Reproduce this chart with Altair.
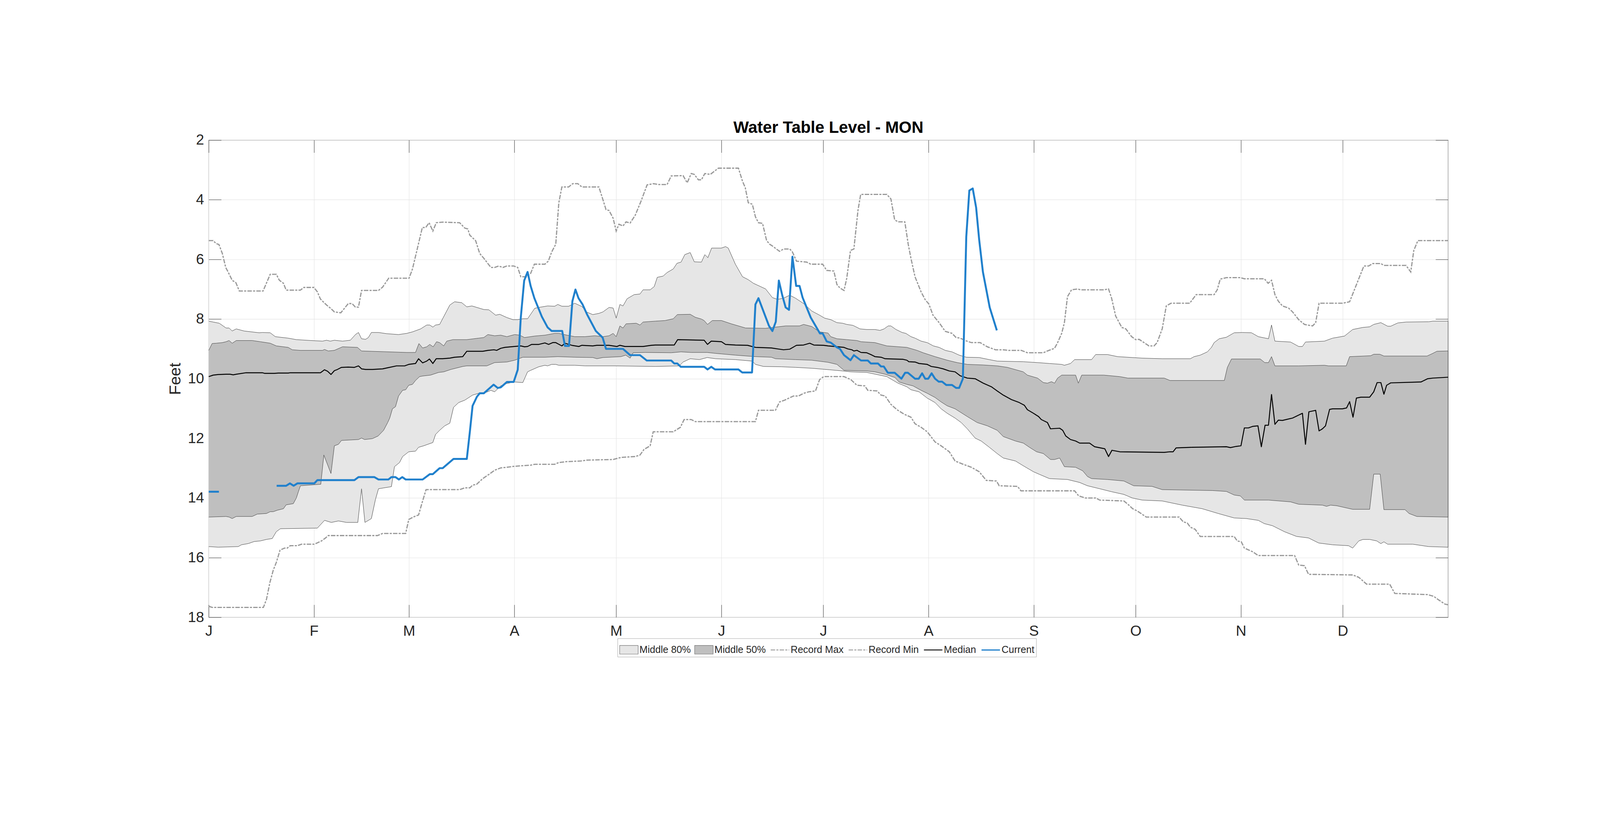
import json
import altair as alt
import pandas as pd

FONT = "Liberation Sans"
TXT = "#262626"

SERIES = ["Middle 80%", "Middle 50%", "Record Max", "Record Min", "Median", "Current"]
MONTH_STARTS = [0, 31, 59, 90, 120, 151, 181, 212, 243, 273, 304, 334]
MONTH_LABELS = ["J", "F", "M", "A", "M", "J", "J", "A", "S", "O", "N", "D"]
Y_TICKS = [2, 4, 6, 8, 10, 12, 14, 16, 18]

# (day of year, feet)
record_max = [(0, 5.37), (1.3, 5.37), (2.2, 5.47), (3, 5.5), (4, 5.8), (5, 6.27), (5.7, 6.42), (6.9, 6.7), (8, 6.78), (9, 7.06),
    (16, 7.06), (18.1, 6.5), (19.9, 6.5), (20.8, 6.7), (22, 6.8), (22.8, 7.03), (27, 7.03), (28, 6.94), (31, 6.94), (32, 7.09),
    (32.9, 7.33), (34.7, 7.53), (35.8, 7.63), (37, 7.76), (38.9, 7.79), (41.1, 7.48), (42.2, 7.48), (43.2, 7.6), (44.1, 7.6), (45, 7.04),
    (50, 7.04), (51.2, 6.93), (53, 6.63), (59, 6.63), (60, 6.32), (61.2, 5.75), (62.9, 4.93), (63.9, 4.93), (64.9, 4.77), (66, 5.05),
    (67, 4.77), (68.9, 4.75), (73.9, 4.77), (75.4, 4.95), (76.3, 4.98), (76.9, 5.19), (78.6, 5.37), (79.8, 5.8), (81, 5.96), (83.1, 6.27),
    (84.2, 6.27), (85.4, 6.22), (86.6, 6.27), (87.8, 6.22), (89.8, 6.22), (91, 6.27), (91.9, 6.58), (93.6, 6.58), (94.8, 6.47), (95.9, 6.16),
    (99, 6.16), (100, 6.06), (101, 5.75), (102.2, 5.49), (103.1, 4.1), (104, 3.57), (106, 3.57), (107.2, 3.46), (108.7, 3.46), (109.9, 3.57),
    (114.9, 3.57), (116.1, 4.0), (117, 4.33), (117.9, 4.36), (119.1, 4.62), (120, 5.05), (120.8, 4.82), (122, 4.88), (122.9, 4.74), (124.1, 4.78),
    (125.6, 4.52), (127.3, 4.05), (129.1, 3.5), (130.9, 3.46), (132.6, 3.49), (135, 3.49), (136.2, 3.2), (139.7, 3.19), (140.9, 3.43), (142.1, 3.12),
    (143, 3.15), (144.2, 3.33), (145.1, 3.33), (146.1, 3.12), (147.7, 3.15), (150.1, 2.94), (156, 2.94), (157.2, 3.38), (158, 3.59), (158.9, 4.1),
    (160.1, 4.15), (161, 4.57), (161.9, 4.77), (163.1, 4.79), (164.3, 5.37), (165.2, 5.49), (166, 5.55), (168.1, 5.73), (169.3, 5.65), (171.1, 5.65),
    (171.9, 5.75), (173.1, 6.06), (176.1, 6.09), (177.3, 6.16), (180.8, 6.16), (182, 6.37), (184.1, 6.39), (185, 6.84), (185.9, 6.96), (187.1, 7.04),
    (187.9, 6.63), (189, 5.7), (190, 5.65), (191.2, 4.36), (192, 3.82), (199.7, 3.82), (200.9, 3.97), (202, 4.67), (203, 4.74), (205, 4.74),
    (206, 5.49), (206.8, 5.96), (208, 6.58), (209.8, 7.09), (211, 7.35), (212.1, 7.5), (213.3, 7.87), (215.1, 8.12), (216.9, 8.41), (218.9, 8.48),
    (220.1, 8.62), (221.3, 8.64), (222.8, 8.72), (224.6, 8.79), (227.2, 8.79), (229.3, 8.93), (231.7, 9.03), (234, 9.03), (235.5, 9.05), (239.3, 9.05),
    (241.1, 9.13), (245.8, 9.13), (247, 9.07), (249.1, 8.98), (250, 8.79), (251.2, 8.48), (252, 8.12), (252.9, 7.25), (254.1, 7.02), (255.9, 6.99),
    (256.8, 7.02), (263.6, 7.02), (265, 6.99), (265.9, 7.3), (267.1, 7.9), (268.9, 8.28), (270.1, 8.33), (271.8, 8.59), (273, 8.69), (274, 8.68),
    (276.9, 8.9), (278.4, 8.9), (279.3, 8.79), (280.8, 8.33), (282, 7.56), (283.4, 7.47), (288.9, 7.47), (290.8, 7.18), (296.1, 7.18), (297, 7.02),
    (297.9, 6.66), (299.7, 6.61), (303.8, 6.61), (305, 6.65), (310.9, 6.65), (312, 6.8), (313, 6.7), (313.3, 6.84), (314, 7.18), (315, 7.4),
    (316.2, 7.56), (318, 7.63), (319.2, 7.76), (321, 8.02), (322.7, 8.18), (325.1, 8.23), (326, 8.12), (327, 7.47), (333.9, 7.47), (336, 7.42),
    (337.5, 6.99), (340.2, 6.22), (341.6, 6.22), (342.8, 6.14), (345.2, 6.14), (346.1, 6.2), (352.6, 6.2), (354, 6.42), (354.9, 5.7), (356.1, 5.37),
    (365, 5.37)]

record_min = [(0, 17.63), (1, 17.67), (16.1, 17.67), (17, 17.4), (18, 16.84), (19, 16.42), (19.9, 16.16), (21, 15.75), (22.3, 15.68), (23.1, 15.68),
    (24, 15.6), (26.1, 15.6), (27.3, 15.55), (31.1, 15.55), (33.2, 15.44), (34.4, 15.34), (35.2, 15.26), (49.7, 15.26), (51.2, 15.19), (58, 15.19),
    (58.9, 14.72), (60.6, 14.62), (61.8, 14.57), (62.7, 14.21), (64, 13.72), (73.9, 13.72), (75.4, 13.66), (76.9, 13.66), (77.7, 13.57), (78.9, 13.54),
    (80.7, 13.35), (82.5, 13.21), (84.2, 13.07), (86, 12.99), (87.8, 12.97), (89.8, 12.94), (91.9, 12.92), (94.8, 12.9), (96, 12.87), (101.9, 12.87),
    (103.1, 12.81), (105.5, 12.78), (109.6, 12.76), (111.4, 12.73), (119.1, 12.71), (121.4, 12.64), (125.6, 12.61), (127, 12.56), (128.2, 12.37), (130, 12.25),
    (130.9, 11.78), (136.8, 11.78), (138.9, 11.63), (140, 11.37), (142.1, 11.37), (143.3, 11.44), (161, 11.44), (161.9, 11.06), (166.9, 11.06), (168.1, 10.78),
    (169.6, 10.72), (172.2, 10.58), (173.7, 10.58), (175.2, 10.49), (176.7, 10.44), (178.7, 10.41), (179.9, 10.03), (181.1, 9.93), (187.1, 9.93), (189.1, 10.03),
    (190.9, 10.22), (193.2, 10.24), (194.1, 10.39), (196.8, 10.41), (198, 10.55), (199.2, 10.58), (200.9, 10.86), (202.7, 11.04), (204.8, 11.19), (206.8, 11.29),
    (208, 11.51), (209.8, 11.63), (211.6, 11.78), (213.9, 12.12), (215.7, 12.25), (218.1, 12.45), (219.8, 12.76), (222.2, 12.87), (224.6, 12.97), (226.9, 13.12),
    (229, 13.41), (232, 13.43), (232.8, 13.59), (238.2, 13.61), (239.2, 13.76), (255, 13.76), (256.2, 13.93), (258.2, 14.0), (261.2, 14.0), (262.4, 14.07),
    (269.5, 14.1), (270.7, 14.21), (272.1, 14.36), (273.4, 14.43), (276.1, 14.64), (285.8, 14.64), (287, 14.8), (288.2, 14.84), (289.1, 14.98), (290.5, 15.05),
    (292, 15.29), (302, 15.29), (302.9, 15.44), (304.1, 15.47), (305, 15.68), (307.4, 15.8), (309.1, 15.93), (319.8, 15.93), (321, 16.25), (322.7, 16.27),
    (323.9, 16.56), (336.9, 16.58), (338.7, 16.66), (341, 16.89), (347.8, 16.89), (349.3, 17.2), (359, 17.24), (360.8, 17.3), (362, 17.4), (364.1, 17.56),
    (365, 17.58)]

upper_80 = [(0, 8.07), (1.3, 8.1), (3.1, 8.14), (5.1, 8.3), (6, 8.3), (6.9, 8.4), (8.1, 8.33), (10.4, 8.4), (14.9, 8.46), (15.8, 8.45),
    (18.1, 8.46), (19.6, 8.59), (23.4, 8.64), (25.8, 8.69), (30.2, 8.72), (33.5, 8.74), (34.7, 8.71), (35.8, 8.74), (37, 8.71), (39.4, 8.74),
    (41.7, 8.71), (43.2, 8.52), (44.1, 8.45), (45, 8.66), (46.2, 8.68), (47, 8.62), (47.9, 8.45), (50, 8.45), (52.4, 8.49), (55.9, 8.52),
    (58.3, 8.48), (60, 8.43), (62.4, 8.33), (64.2, 8.2), (65.1, 8.2), (66, 8.27), (66.8, 8.2), (68, 8.18), (71, 7.53), (72.4, 7.42),
    (74.5, 7.45), (76, 7.59), (77.5, 7.56), (81, 7.68), (82.5, 7.69), (84.5, 7.87), (85.7, 7.84), (87.8, 7.95), (89.6, 8.02), (91, 8.02),
    (92.5, 7.99), (93.9, 7.99), (96, 7.64), (97.2, 7.61), (99.8, 7.56), (101.9, 7.57), (102.8, 7.51), (104, 7.57), (106, 7.57), (107.8, 7.47),
    (109.9, 7.58), (111.4, 7.77), (113.1, 7.85), (114.9, 7.81), (116.1, 7.76), (117.9, 7.61), (119.1, 7.63), (120, 7.97), (121.1, 7.51), (122, 7.56),
    (123.2, 7.32), (125.3, 7.18), (127, 7.16), (127.9, 7.02), (130, 7.02), (131.2, 6.91), (132.1, 6.6), (133.8, 6.56), (135, 6.44), (136.8, 6.32),
    (137.9, 6.13), (139.1, 6.09), (140.2, 5.84), (141.8, 5.77), (143, 6.08), (145.1, 6.09), (146.1, 5.84), (147, 5.94), (148.1, 5.62), (151, 5.62),
    (152.2, 5.57), (153, 5.62), (155.1, 6.16), (157.2, 6.58), (158.9, 6.68), (160.4, 6.8), (164, 6.99), (166, 7.28), (167.5, 7.34), (169.3, 7.3),
    (171.1, 7.2), (172.8, 7.3), (175.2, 7.48), (177.6, 7.73), (179.9, 7.87), (181.4, 7.97), (183.2, 8.02), (185, 8.12), (186.7, 8.14), (187.9, 8.18),
    (189.7, 8.21), (191.8, 8.33), (193.8, 8.35), (196.2, 8.35), (197.7, 8.38), (198.9, 8.33), (200.1, 8.23), (200.9, 8.23), (202.4, 8.35), (204.2, 8.45),
    (205.3, 8.48), (206.8, 8.59), (208, 8.64), (209.8, 8.74), (211.6, 8.79), (213.4, 8.9), (215.1, 8.95), (216.9, 9.05), (218.9, 9.1), (221, 9.21),
    (223.1, 9.28), (226.9, 9.29), (229.9, 9.36), (232.2, 9.41), (239.9, 9.43), (244.1, 9.46), (247.6, 9.49), (251.2, 9.52), (252, 9.55), (253.8, 9.49),
    (255, 9.36), (260, 9.36), (261.2, 9.19), (264.7, 9.19), (267.7, 9.26), (274.9, 9.31), (280.8, 9.33), (289.1, 9.33), (290.2, 9.26), (292, 9.21),
    (294.1, 9.1), (295.3, 8.95), (296.1, 8.79), (297.6, 8.66), (299.7, 8.61), (302, 8.46), (304.4, 8.45), (307.1, 8.46), (309.1, 8.59), (312.1, 8.66),
    (313, 8.2), (314, 8.74), (318.6, 8.77), (321, 8.92), (322.1, 8.92), (323, 8.77), (328.6, 8.74), (331, 8.64), (334.5, 8.57), (336.9, 8.35),
    (339.9, 8.28), (341.9, 8.26), (343.1, 8.18), (345.2, 8.12), (347.2, 8.24), (348.1, 8.24), (350.2, 8.13), (352.6, 8.1), (359.3, 8.09), (360.5, 8.07),
    (365, 8.07)]

lower_80 = [(0, 15.63), (2.8, 15.65), (8.7, 15.63), (9.6, 15.57), (11.6, 15.53), (13.4, 15.46), (15.2, 15.44), (17, 15.39), (18.7, 15.36), (19.9, 15.13),
    (21.1, 15.03), (32, 15.01), (34.1, 14.75), (36.1, 14.82), (38.2, 14.77), (40.6, 14.82), (43.9, 14.82), (45, 13.69), (46, 14.82), (47.9, 14.69),
    (49.1, 14.05), (50, 13.69), (53.8, 13.62), (54.7, 12.95), (56.2, 12.81), (57.1, 12.61), (58.9, 12.45), (60.9, 12.43), (61.8, 12.3), (63.3, 12.25),
    (66, 12.14), (66.8, 11.87), (68, 11.73), (69.5, 11.58), (71, 11.49), (72.1, 10.96), (73.6, 10.8), (75.4, 10.72), (77.7, 10.55), (79.5, 10.49),
    (81, 10.49), (83.1, 10.39), (84.2, 10.44), (86, 10.24), (87.8, 10.16), (90.1, 10.11), (92.5, 10.13), (93.9, 9.77), (94.8, 9.72), (97.2, 9.6),
    (99, 9.55), (99.8, 9.57), (101, 9.52), (102.2, 9.52), (103.1, 9.55), (107.8, 9.55), (110.8, 9.57), (119.6, 9.57), (131.5, 9.59), (138.6, 9.57),
    (139.7, 9.44), (141.8, 9.33), (144.5, 9.36), (146.8, 9.29), (149.2, 9.33), (155.1, 9.36), (160.1, 9.41), (161, 9.52), (163.4, 9.59), (168.7, 9.6),
    (172.8, 9.62), (177.6, 9.65), (182.8, 9.7), (186.7, 9.74), (189.1, 9.77), (193.8, 9.79), (199.7, 9.93), (203, 10.15), (205.6, 10.27), (206.8, 10.37),
    (209.2, 10.44), (211.6, 10.65), (213.9, 10.8), (215.7, 11.01), (217.5, 11.16), (219.8, 11.32), (221.6, 11.47), (223.4, 11.68), (225.7, 11.99), (227.5, 12.09),
    (229.9, 12.3), (232.2, 12.51), (234, 12.66), (237.6, 12.76), (239.9, 12.92), (242.9, 13.12), (244.7, 13.21), (247.6, 13.35), (252.9, 13.38), (256.5, 13.48),
    (258.8, 13.59), (262.4, 13.69), (265.9, 13.79), (269.5, 13.88), (272, 14.0), (274.9, 14.07), (280.8, 14.1), (286.7, 14.24), (292.6, 14.36), (297.3, 14.52),
    (302, 14.67), (305.6, 14.69), (309.1, 14.75), (310.9, 14.86), (313.3, 14.93), (316.8, 15.13), (320.4, 15.29), (323.9, 15.34), (326.9, 15.51), (331, 15.57),
    (335.7, 15.6), (336.9, 15.68), (338.7, 15.44), (339.9, 15.39), (341.9, 15.39), (344, 15.44), (345.2, 15.53), (346.1, 15.47), (347.2, 15.55), (354.6, 15.55),
    (359.3, 15.63), (365, 15.65)]

upper_50 = [(0, 9.05), (1, 8.82), (2.2, 8.81), (4, 8.79), (5.1, 8.76), (6, 8.72), (6.9, 8.81), (8.1, 8.72), (12.8, 8.72), (15.2, 8.76),
    (18.1, 8.81), (19.9, 8.9), (23.4, 8.95), (24.6, 9.03), (27, 9.05), (33.5, 9.05), (34.1, 9.02), (35.2, 9.07), (37, 9.05), (39.4, 8.93),
    (43.8, 8.95), (45, 9.07), (58.3, 9.12), (60.9, 9.12), (61.9, 8.82), (63, 8.97), (64.2, 8.93), (65.1, 8.85), (66.1, 8.93), (67.1, 8.76),
    (68, 8.79), (69.2, 8.9), (70.1, 8.74), (71.9, 8.69), (76, 8.69), (79.5, 8.64), (81, 8.62), (82.2, 8.52), (84.2, 8.56), (86, 8.54),
    (87.8, 8.59), (90.1, 8.52), (91.6, 8.54), (93, 8.62), (96, 8.57), (99, 8.54), (101.9, 8.48), (103.1, 8.48), (105.5, 8.54), (107.8, 8.59),
    (110.8, 8.59), (113.7, 8.56), (116.1, 8.59), (117.9, 8.56), (119.1, 8.48), (120, 8.59), (121.1, 8.23), (122, 8.3), (122.9, 8.16), (125.9, 8.14),
    (127, 8.2), (127.9, 8.1), (131.5, 8.07), (134.4, 8.05), (136.8, 7.99), (138, 7.85), (141.8, 7.84), (143.3, 7.94), (145.1, 8.0), (145.9, 8.05),
    (146.9, 8.18), (148.3, 8.05), (151, 8.05), (153.9, 8.16), (158.1, 8.3), (164, 8.31), (169.9, 8.23), (174, 8.23), (175.2, 8.18), (177.6, 8.25),
    (179.9, 8.43), (182.4, 8.47), (183.2, 8.59), (185, 8.66), (187.9, 8.69), (190.9, 8.72), (192.1, 8.76), (196.2, 8.79), (199.7, 8.9), (205.6, 8.95),
    (208.6, 9.05), (210.4, 9.13), (213.9, 9.26), (217.5, 9.38), (220.4, 9.46), (223.4, 9.52), (228.1, 9.54), (232.2, 9.57), (235.2, 9.62), (239.9, 9.77),
    (241.1, 9.88), (244.1, 9.98), (245.8, 10.13), (247, 10.15), (248.2, 10.1), (249.1, 10.15), (250, 9.98), (251.2, 9.88), (255.3, 9.88), (256.1, 10.15),
    (257.1, 9.88), (263.6, 9.88), (268.3, 9.93), (270.7, 9.98), (281.4, 9.98), (283.1, 10.06), (299.1, 10.06), (300, 9.62), (301.2, 9.34), (309.7, 9.34),
    (311, 9.46), (312.1, 9.46), (313, 9.26), (314, 9.57), (321, 9.57), (328.6, 9.55), (329.8, 9.57), (335, 9.57), (336, 9.26), (342.2, 9.23),
    (343.1, 9.18), (344.9, 9.18), (346.1, 9.24), (358.8, 9.24), (360.5, 9.15), (361.7, 9.08), (365, 9.07)]

lower_50 = [(0, 14.64), (5.1, 14.62), (6, 14.64), (6.9, 14.69), (8.1, 14.62), (12.8, 14.62), (14.3, 14.54), (17, 14.52), (18.1, 14.46), (19, 14.46),
    (20.2, 14.41), (22, 14.36), (22.8, 14.23), (24.9, 14.19), (25.8, 14.0), (26.4, 13.79), (27, 13.59), (33, 13.54), (33.9, 12.56), (36, 13.18),
    (37, 12.25), (38.2, 12.2), (39.1, 12.07), (44.1, 12.04), (45, 11.99), (45.9, 12.04), (48.2, 12.01), (49.9, 11.92), (51.5, 11.73), (52.7, 11.47),
    (53.3, 11.32), (54.1, 11.01), (55, 10.94), (55.9, 10.58), (57.1, 10.39), (58, 10.37), (58.9, 10.22), (60, 10.19), (60.9, 10.06), (62.1, 9.93),
    (63, 9.91), (65.3, 9.88), (67.7, 9.79), (69.2, 9.77), (71.3, 9.69), (74.8, 9.59), (76, 9.57), (81.9, 9.57), (84.2, 9.46), (87.8, 9.44),
    (90.1, 9.38), (92.5, 9.28), (99, 9.28), (102.8, 9.26), (107.8, 9.28), (113.1, 9.29), (114.3, 9.33), (116.1, 9.29), (121.4, 9.26), (122.8, 9.21),
    (124.1, 9.31), (125, 9.13), (128.5, 9.12), (136.2, 9.13), (139.1, 9.1), (142.1, 9.12), (146.8, 9.12), (149.2, 9.15), (155.1, 9.21), (161, 9.26),
    (165.7, 9.28), (166.9, 9.33), (172.8, 9.36), (177.6, 9.38), (182.4, 9.45), (185, 9.52), (187.1, 9.72), (193.8, 9.74), (196.2, 9.77), (199.2, 9.85),
    (202.1, 9.96), (203.3, 10.11), (205.6, 10.19), (207.4, 10.24), (209.8, 10.39), (211.6, 10.49), (213.9, 10.63), (215.7, 10.78), (217.5, 10.91), (219.8, 11.01),
    (223.4, 11.27), (226.3, 11.47), (229.3, 11.58), (232.2, 11.73), (234, 11.94), (237.6, 12.09), (239.9, 12.16), (241.7, 12.3), (243.8, 12.45), (245.8, 12.51),
    (247.9, 12.71), (249.1, 12.71), (250.6, 12.66), (252, 12.95), (255.3, 12.97), (257.4, 13.09), (258.8, 13.28), (260, 13.35), (264.7, 13.38), (269.5, 13.43),
    (272.4, 13.59), (277.8, 13.61), (280.8, 13.72), (295.6, 13.75), (299.7, 13.78), (302, 13.9), (303.8, 13.93), (305, 14.07), (312.1, 14.07), (318.6, 14.13),
    (321, 14.21), (328, 14.24), (329.2, 14.28), (330.4, 14.24), (332.2, 14.26), (336.9, 14.38), (341.9, 14.38), (343.1, 13.2), (345, 13.2), (346.1, 14.39),
    (352.3, 14.39), (353.5, 14.52), (355.8, 14.62), (365, 14.64)]

median = [(0, 9.93), (1.3, 9.88), (2.8, 9.86), (5.1, 9.85), (6.3, 9.85), (7.2, 9.87), (8.1, 9.85), (11, 9.8), (15.8, 9.8), (16.4, 9.82),
    (19.3, 9.82), (20.5, 9.81), (23.4, 9.81), (24, 9.8), (32.9, 9.8), (34.1, 9.7), (35, 9.75), (36, 9.86), (37, 9.73), (37.9, 9.69),
    (39.1, 9.62), (41.1, 9.61), (42.9, 9.62), (44.1, 9.57), (45, 9.67), (46.2, 9.69), (48.2, 9.69), (51.2, 9.67), (52.4, 9.64), (55.3, 9.57),
    (57.7, 9.57), (58.9, 9.52), (60.9, 9.49), (61.8, 9.33), (63, 9.47), (64.2, 9.41), (65, 9.34), (66, 9.49), (67, 9.33), (68.9, 9.33),
    (71, 9.31), (72.4, 9.28), (74.8, 9.26), (76, 9.08), (80.7, 9.08), (82.2, 9.05), (84, 9.03), (84.8, 9.05), (86, 8.98), (87.2, 8.95),
    (89, 8.93), (91.9, 8.9), (93, 8.93), (93.9, 8.92), (95.1, 8.85), (97.2, 8.85), (99, 8.8), (100.1, 8.85), (101.3, 8.79), (102.2, 8.79),
    (104, 8.9), (104.9, 8.81), (106.9, 8.88), (109, 8.92), (109.9, 8.88), (113.1, 8.9), (114.3, 8.88), (117.9, 8.88), (120.2, 8.92), (121.1, 8.88),
    (122.6, 8.92), (127.9, 8.92), (130.3, 8.88), (131.5, 8.87), (137.1, 8.87), (138.1, 8.69), (145.9, 8.71), (146.9, 8.85), (148, 8.74), (151, 8.76),
    (152.2, 8.85), (155.1, 8.87), (158.7, 8.88), (161, 8.95), (165.7, 8.97), (167.5, 9.0), (169.3, 9.03), (171.1, 9.01), (173.1, 8.88), (175.2, 8.87),
    (177, 8.81), (178.2, 8.87), (181.1, 8.88), (182.4, 8.9), (184.4, 8.92), (187.1, 8.95), (188.2, 9.0), (189.4, 9.03), (190, 9.07), (190.9, 9.05),
    (192.1, 9.12), (193.8, 9.13), (195, 9.19), (196.2, 9.26), (198, 9.28), (199.2, 9.33), (201.5, 9.34), (204.5, 9.35), (205.6, 9.38), (206.2, 9.43),
    (208, 9.44), (209.2, 9.49), (211.6, 9.52), (212.8, 9.59), (214.5, 9.62), (216.3, 9.67), (218.1, 9.74), (219.8, 9.77), (221.3, 9.9), (223.4, 9.98),
    (225.7, 10.0), (228.1, 10.15), (230.5, 10.27), (232.2, 10.41), (234, 10.55), (236.4, 10.7), (238.7, 10.8), (240.2, 10.89), (241.1, 11.04), (242.9, 11.16),
    (244.4, 11.27), (245.2, 11.37), (247, 11.47), (247.9, 11.68), (250.6, 11.66), (251.5, 11.73), (252.4, 11.92), (253.8, 12.04), (255.3, 12.09), (256.5, 12.16),
    (259.4, 12.16), (260.9, 12.28), (263.9, 12.35), (265, 12.61), (266, 12.4), (268.3, 12.45), (281.4, 12.47), (283.1, 12.45), (284, 12.45), (284.9, 12.32),
    (289.6, 12.3), (299.7, 12.28), (300.9, 12.31), (302.6, 12.27), (304, 12.25), (305, 11.65), (306.2, 11.65), (307.4, 11.6), (309, 11.58), (310, 12.28),
    (311.1, 11.56), (312.1, 11.56), (313, 10.53), (314, 11.53), (315, 11.39), (316.2, 11.4), (319.2, 11.32), (322.1, 11.16), (323, 12.2), (324, 11.11),
    (326, 11.06), (327, 11.75), (328, 11.68), (328.9, 11.58), (330.1, 11.03), (331, 11.01), (333.9, 11.01), (335.1, 10.98), (336, 10.77), (337, 11.29),
    (338, 10.65), (339.3, 10.62), (341.9, 10.62), (343.1, 10.44), (344.1, 10.13), (345.2, 10.13), (346.1, 10.52), (346.9, 10.22), (348.1, 10.14), (357, 10.11),
    (359, 10.0), (360.5, 9.98), (365, 9.95)]

current_early = [(0, 13.79), (3, 13.79)]

current_main = [(20, 13.59), (22.8, 13.59), (23.9, 13.51), (25, 13.59), (26.1, 13.51), (31.1, 13.51), (32, 13.4), (42.9, 13.4), (44.1, 13.3), (48.8, 13.3),
    (50, 13.38), (52.9, 13.38), (53.8, 13.3), (55, 13.3), (56, 13.38), (57, 13.3), (58, 13.38), (63, 13.38), (65.1, 13.2), (66, 13.2),
    (68, 13.0), (68.9, 13.0), (72.1, 12.69), (76, 12.69), (76.9, 11.78), (77.7, 10.91), (79, 10.6), (79.8, 10.49), (81, 10.49), (83.9, 10.2),
    (85.1, 10.31), (86, 10.29), (87.8, 10.11), (89.8, 10.11), (91, 9.7), (91.9, 7.95), (92.9, 6.71), (93.9, 6.42), (94.8, 6.89), (95.9, 7.3),
    (98.1, 7.92), (99.8, 8.28), (101, 8.4), (104.1, 8.4), (104.9, 8.9), (106.1, 8.9), (107.1, 7.4), (108, 7.01), (108.9, 7.3), (110.1, 7.51),
    (111.4, 7.84), (114, 8.4), (116, 8.62), (117, 9.0), (122, 9.0), (124.1, 9.21), (127, 9.21), (129, 9.39), (136.2, 9.39), (137.1, 9.49),
    (138, 9.49), (139, 9.6), (145.9, 9.6), (146.9, 9.69), (148, 9.6), (149.1, 9.69), (156, 9.69), (157.1, 9.79), (160, 9.79), (161, 7.51),
    (161.9, 7.3), (165, 8.23), (166, 8.4), (167, 8.09), (167.9, 6.71), (168.9, 7.2), (169.9, 7.61), (170.9, 7.69), (171.9, 5.91), (173, 6.89),
    (174, 6.89), (174.9, 7.28), (177.3, 7.95), (180, 8.48), (180.8, 8.48), (182, 8.75), (183.2, 8.79), (185, 8.95), (185.9, 9.0), (187.1, 9.21),
    (187.9, 9.28), (189, 9.38), (190, 9.21), (192.1, 9.39), (194.1, 9.39), (195, 9.49), (197.1, 9.49), (198, 9.59), (198.8, 9.59), (200, 9.8),
    (202, 9.8), (204, 10.0), (205.1, 9.8), (205.9, 9.8), (208, 10.0), (209.1, 10.0), (210.1, 9.82), (211, 10.0), (211.9, 10.0), (212.9, 9.82),
    (213.9, 10.0), (215, 10.1), (216, 10.1), (217.2, 10.21), (218.9, 10.21), (220.1, 10.31), (221, 10.31), (222.1, 10.0), (223.1, 5.24), (224, 3.69),
    (225, 3.62), (226, 4.26), (226.9, 5.34), (228, 6.42), (230, 7.61), (232.1, 8.38)]

# ---------------- tables ----------------
def poly(upper, lower):
    pts = list(upper) + list(reversed(lower))
    return pd.DataFrame({"day": [p[0] for p in pts], "ft": [p[1] for p in pts], "ord": list(range(len(pts)))})

def tbl(pairs, seg="a"):
    return pd.DataFrame({"day": [p[0] for p in pairs], "ft": [p[1] for p in pairs], "seg": seg})

band80 = poly(upper_80, lower_80)
band50 = poly(upper_50, lower_50)
max_df = tbl(record_max)
min_df = tbl(record_min)
med_df = tbl(median)
cur_df = pd.concat([tbl(current_early, "a"), tbl(current_main, "b")], ignore_index=True)

W, H = 4165, 1603
xscale = alt.Scale(domain=[0, 365], nice=False, zero=False)
yscale = alt.Scale(domain=[2, 18], reverse=True, nice=False, zero=False)

label_expr = f"{json.dumps(MONTH_LABELS)}[indexof({json.dumps(MONTH_STARTS)}, datum.value)]"

x_main = alt.Axis(values=MONTH_STARTS, labelExpr=label_expr, labelFont=FONT, labelFontSize=49, labelColor=TXT,
                  labelPadding=22, labelFlush=False, labelOverlap=False, ticks=False, tickSize=0, domain=False,
                  grid=True, gridColor="#e4e4e4", gridWidth=1.5, title=None)
y_main = alt.Axis(values=Y_TICKS, labelFont=FONT, labelFontSize=49, labelColor=TXT, labelPadding=16,
                  labelOverlap=False, labelFlush=False, ticks=False, tickSize=0, domain=False, grid=True,
                  gridColor="#e4e4e4", gridWidth=1.5, title="Feet", titleFont=FONT, titleFontSize=54,
                  titleFontWeight="normal", titleColor=TXT, titlePadding=14)

def tick_axis(orient, offset, values):
    return alt.Axis(orient=orient, offset=offset, values=values, ticks=True, tickSize=42, tickColor="#333333",
                    tickWidth=1.3, labels=False, domain=False, grid=False, title=None)

poly80_ch = alt.Chart(band80).mark_line(fill="#e6e6e6", stroke="#404040", strokeWidth=1.3).encode(
    x=alt.X("day:Q", scale=xscale, axis=x_main),
    y=alt.Y("ft:Q", scale=yscale, axis=y_main),
    order="ord:Q",
)
poly50_ch = alt.Chart(band50).mark_line(fill="#bfbfbf", stroke="#404040", strokeWidth=1.3).encode(
    x=alt.X("day:Q", scale=xscale, axis=tick_axis("top", -H, MONTH_STARTS)),
    y=alt.Y("ft:Q", scale=yscale, axis=tick_axis("right", -W, Y_TICKS)),
    order="ord:Q",
)
max_ch = alt.Chart(max_df).mark_line(color="#999999", strokeWidth=4, strokeDash=[15, 4, 7, 4]).encode(
    x=alt.X("day:Q", scale=xscale, axis=tick_axis("bottom", -H, MONTH_STARTS)),
    y=alt.Y("ft:Q", scale=yscale, axis=tick_axis("left", -W, Y_TICKS)),
)
min_ch = alt.Chart(min_df).mark_line(color="#999999", strokeWidth=4, strokeDash=[15, 4, 7, 4]).encode(
    x=alt.X("day:Q", scale=xscale, axis=None),
    y=alt.Y("ft:Q", scale=yscale, axis=None),
)
med_ch = alt.Chart(med_df).mark_line(color="#000000", strokeWidth=3.2, strokeJoin="round").encode(
    x=alt.X("day:Q", scale=xscale, axis=None),
    y=alt.Y("ft:Q", scale=yscale, axis=None),
)
cur_ch = alt.Chart(cur_df).mark_line(color="#2080cc", strokeWidth=6.5, strokeJoin="round").encode(
    x=alt.X("day:Q", scale=xscale, axis=None),
    y=alt.Y("ft:Q", scale=yscale, axis=None),
    detail="seg:N",
)

# legend (driven by scales only)
RECT = "M-1,-0.47H1V0.47H-1Z"
LINE = "M-1,0H1"
LEG_FILL = ["#e6e6e6", "#bfbfbf", "#999999", "#999999", "#000000", "#2080cc"]
LEG_STROKE = ["#707070", "#707070", "#999999", "#999999", "#000000", "#2080cc"]
LEG_SHAPE = [RECT, RECT, LINE, LINE, LINE, LINE]
LEG_DASH = [[1, 0], [1, 0], [15, 4, 7, 4], [15, 4, 7, 4], [1, 0], [1, 0]]
LEG_WIDTH = [1.5, 1.5, 3, 3, 3, 4]

def leg():
    return alt.Legend(orient="none", legendX=1374, legendY=1674, direction="horizontal", title=None,
                      labelFont=FONT, labelFontSize=33, labelColor=TXT, labelOffset=3.5, labelLimit=600,
                      columnPadding=10, padding=6, strokeColor="#8c8c8c", fillColor="#ffffff",
                      symbolSize=3844, symbolOpacity=1)

legend_df = pd.DataFrame({"series": SERIES})
leg_ch = alt.Chart(legend_df).transform_filter("false").mark_point(filled=True).encode(
    fill=alt.Fill("series:N", scale=alt.Scale(domain=SERIES, range=LEG_FILL), legend=leg()),
    stroke=alt.Stroke("series:N", scale=alt.Scale(domain=SERIES, range=LEG_STROKE), legend=leg()),
    shape=alt.Shape("series:N", scale=alt.Scale(domain=SERIES, range=LEG_SHAPE), legend=leg()),
    strokeDash=alt.StrokeDash("series:N", scale=alt.Scale(domain=SERIES, range=LEG_DASH), legend=leg()),
    strokeWidth=alt.StrokeWidth("series:N", scale=alt.Scale(type="ordinal", domain=SERIES, range=LEG_WIDTH), legend=leg()),
)

chart = alt.layer(poly80_ch, poly50_ch, max_ch, min_ch, med_ch, cur_ch, leg_ch).resolve_axis(
    x="independent", y="independent"
).properties(
    width=W, height=H,
    title=alt.TitleParams("Water Table Level - MON", font=FONT, fontSize=55, fontWeight="bold", color="#000000",
                          anchor="middle", frame="group", baseline="alphabetic", offset=0, dy=55),
    autosize=alt.AutoSizeParams(type="none"),
    padding={"left": 691, "top": 138, "right": 500, "bottom": 320},
).configure_view(stroke="#808080", strokeWidth=1.5)

chart.save("out.html", embed_options={"renderer": "svg", "actions": False})
